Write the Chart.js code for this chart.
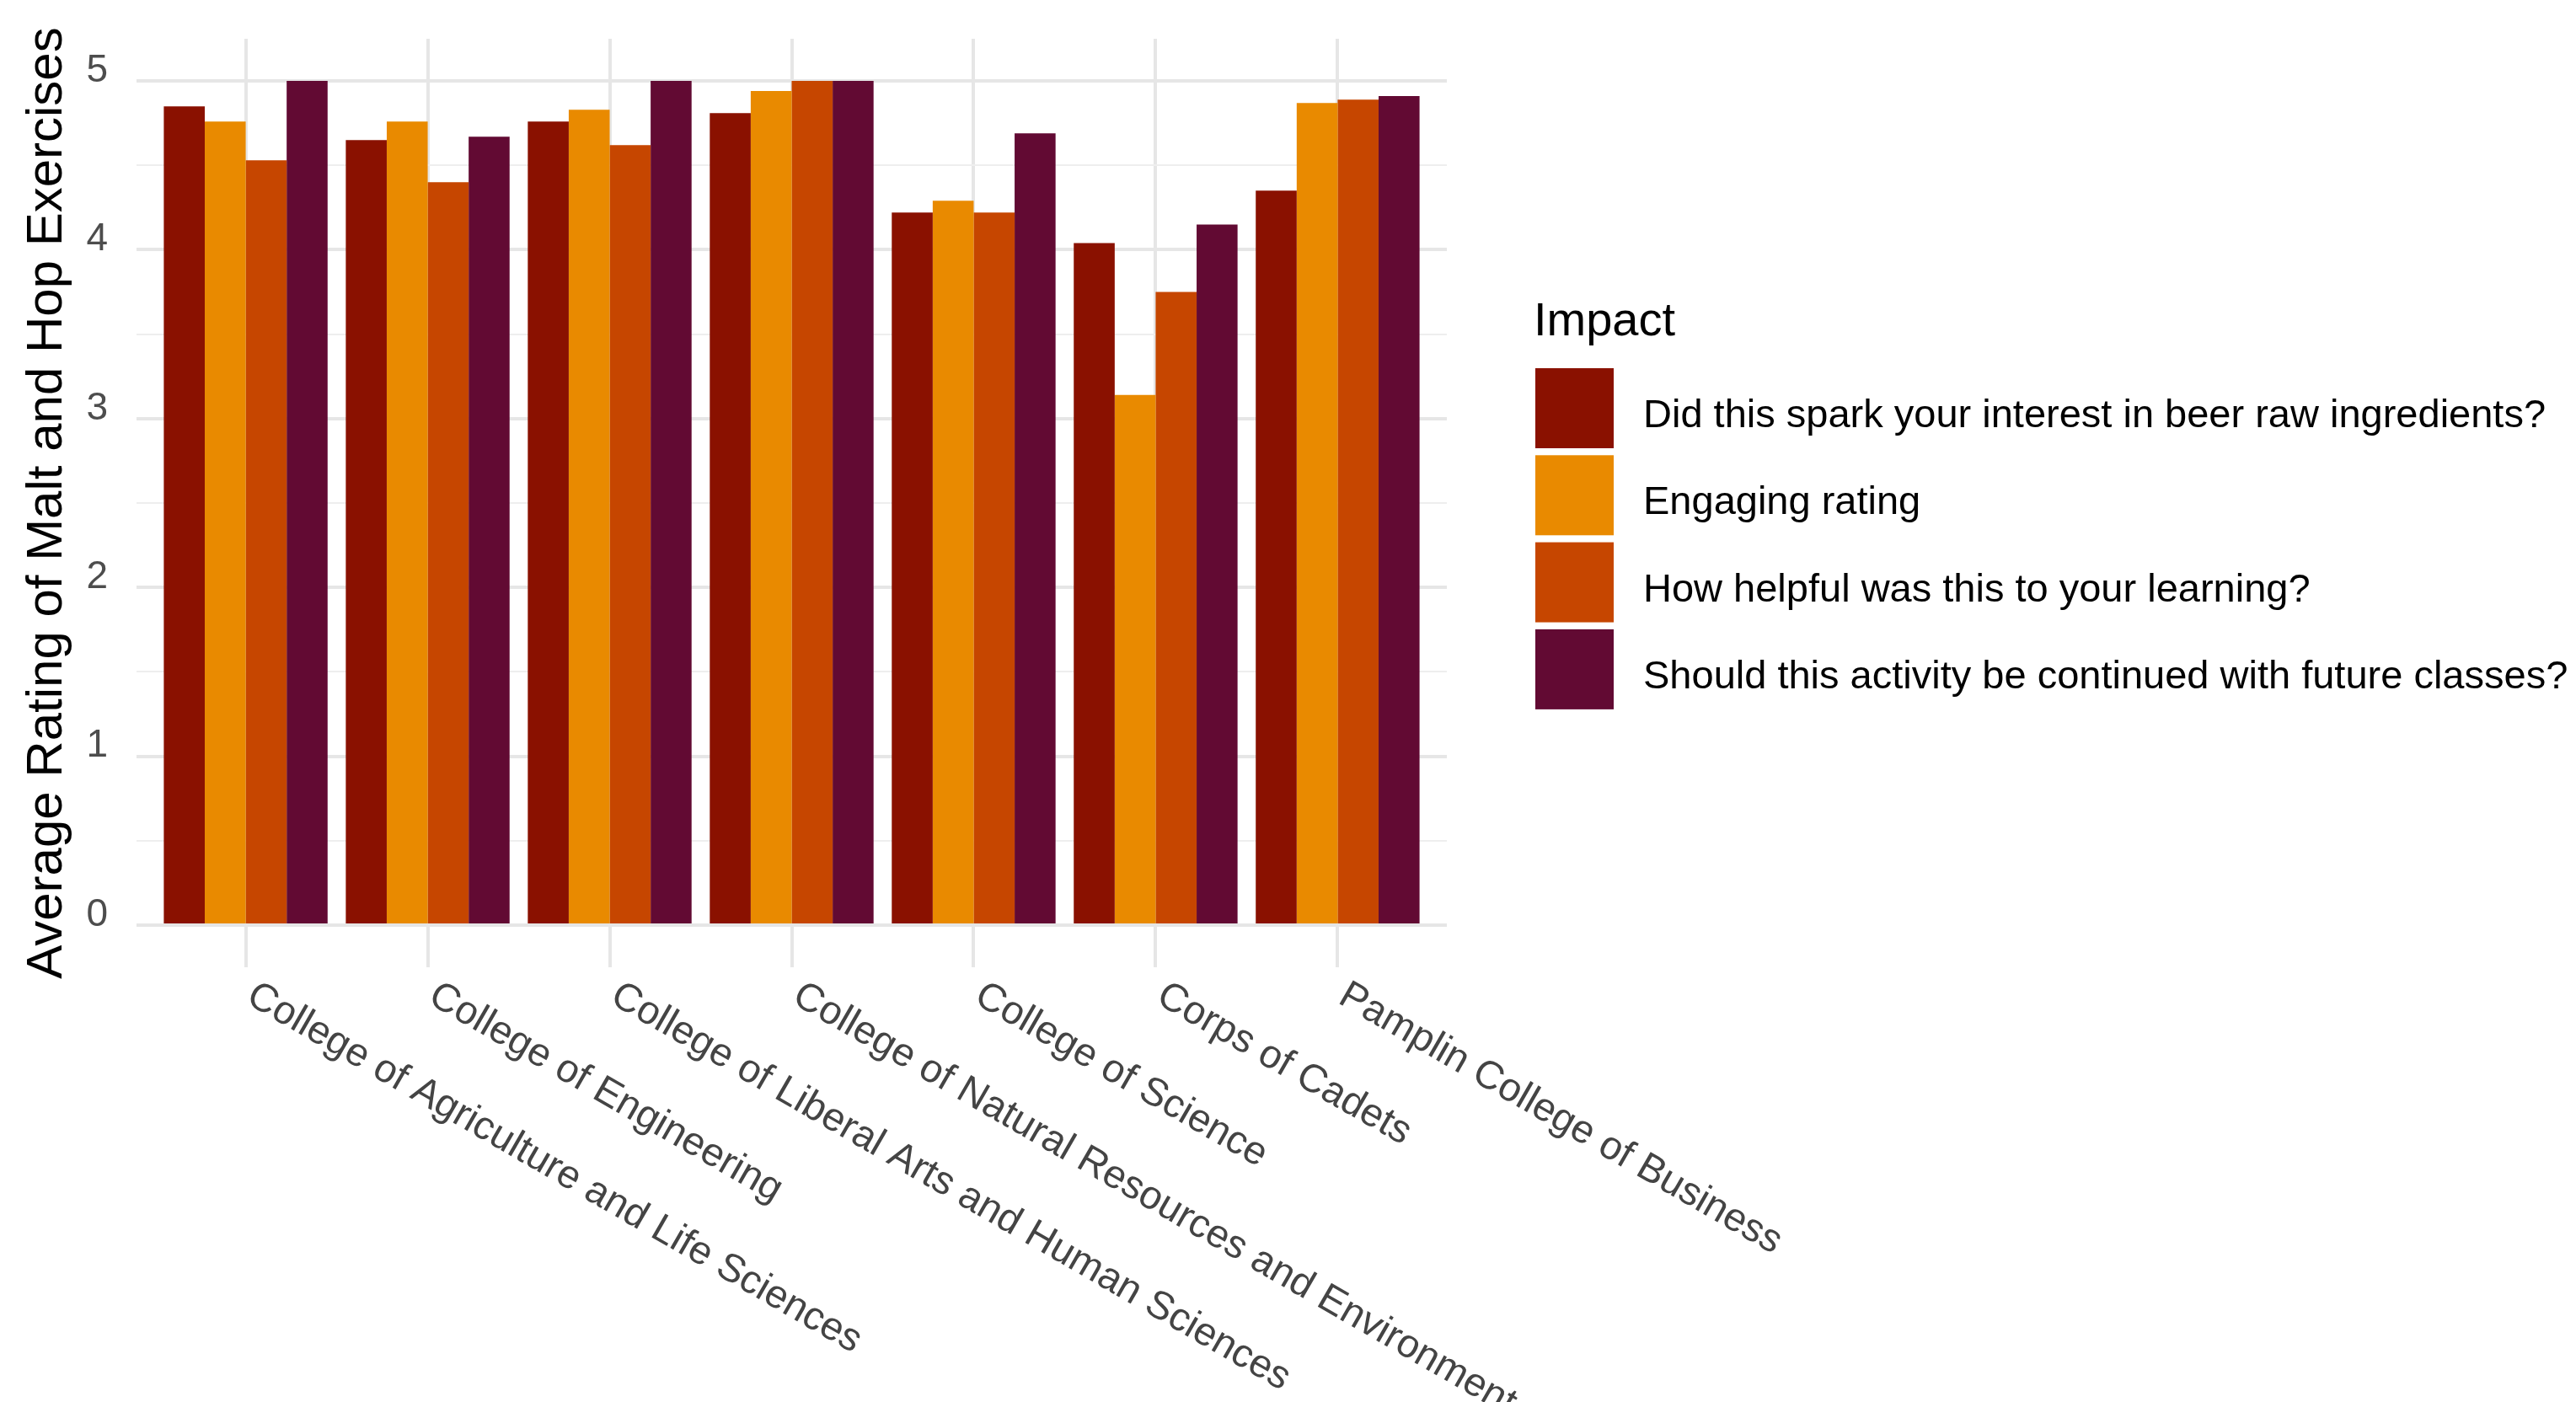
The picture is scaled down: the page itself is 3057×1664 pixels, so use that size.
<!DOCTYPE html>
<html>
<head>
<meta charset="utf-8">
<script src="https://cdn.jsdelivr.net/npm/chart.js@4.4.1/dist/chart.umd.min.js"></script>
<style>
  html, body { margin: 0; padding: 0; background: #ffffff; }
  #ratingChart { display: block; }
</style>
</head>
<body>
<canvas id="ratingChart" width="3057" height="1664"></canvas>
<script>
/* --------------- Data --------------------- */
const colleges = [
  "College of Agriculture and Life Sciences",
  "College of Engineering",
  "College of Liberal Arts and Human Sciences",
  "College of Natural Resources and Environment",
  "College of Science",
  "Corps of Cadets",
  "Pamplin College of Business",
];
const impactNames = [
  "Did this spark your interest in beer raw ingredients?",
  "Engaging rating",
  "How helpful was this to your learning?",
  "Should this activity be continued with future classes?",
];
const sparkInterest = [4.85, 4.65, 4.76, 4.81, 4.22, 4.04, 4.35];
const engagingRating = [4.76, 4.76, 4.83, 4.94, 4.29, 3.14, 4.87];
const helpfulLearning = [4.53, 4.40, 4.62, 5.00, 4.22, 3.75, 4.89];
const continueActivity = [5.00, 4.67, 5.00, 5.00, 4.69, 4.15, 4.91];
const yTickValues = [0, 0.5, 1, 1.5, 2, 2.5, 3, 3.5, 4, 4.5, 5];

/* --------------- Look --------------------- */
const impactColors = ["#8a1100", "#e98a00", "#c64600", "#620a33"];
const fontFamily = "'Liberation Sans', Arial, sans-serif";
const gridMajor = "#e6e6e6";
const gridMinor = "#eeeeee";

const seriesValues = [sparkInterest, engagingRating, helpfulLearning, continueActivity];

/* --------------- Rotated x labels and legend --------------------- */
const sideText = {
  id: "sideText",
  afterDraw(chart) {
    const ctx = chart.ctx;
    const area = chart.chartArea;
    const xScale = chart.scales.x;
    ctx.save();

    // category labels, rotated 30 degrees clockwise, starting at the tick
    ctx.fillStyle = "#444444";
    ctx.font = `47px ${fontFamily}`;
    ctx.textAlign = "left";
    ctx.textBaseline = "top";
    colleges.forEach((name, i) => {
      const x = xScale.getPixelForValue(i + 1);
      ctx.save();
      ctx.translate(x + 17, area.bottom + 10);
      ctx.rotate(Math.PI / 6);
      ctx.fillText(name, 0, 0);
      ctx.restore();
    });

    // legend
    const keyX = area.right + 105;
    ctx.fillStyle = "#000000";
    ctx.textBaseline = "alphabetic";
    ctx.font = `56px ${fontFamily}`;
    ctx.fillText("Impact", keyX - 2, area.top + 352);
    ctx.font = `47px ${fontFamily}`;
    impactNames.forEach((name, i) => {
      const rowTop = area.top + 391 + i * 103.3;
      ctx.fillStyle = impactColors[i];
      ctx.fillRect(keyX, rowTop, 93, 95);
      ctx.fillStyle = "#000000";
      ctx.fillText(name, keyX + 128, rowTop + 70);
    });
    ctx.restore();
  },
};

/* --------------- Chart --------------------- */
const ratingChart = new Chart(document.getElementById("ratingChart"), {
  type: "bar",
  plugins: [sideText],
  data: {
    datasets: impactNames.map((name, s) => ({
      label: name,
      data: seriesValues[s].map((v, i) => ({ x: i + 1, y: v })),
      backgroundColor: impactColors[s],
      borderWidth: 0,
      categoryPercentage: 0.9,
      barPercentage: 1.0,
    })),
  },
  options: {
    responsive: false,
    animation: false,
    layout: { padding: { top: 46, right: 1340, left: 0, bottom: 0 } },
    plugins: {
      legend: { display: false },
      tooltip: { enabled: false },
    },
    scales: {
      x: {
        type: "linear",
        min: 0.4,
        max: 7.6,
        offset: false,
        afterBuildTicks: (scale) => {
          scale.ticks = colleges.map((_, i) => ({ value: i + 1 }));
        },
        afterFit: (scale) => {
          scale.height = 516;
          scale.paddingLeft = 0;
          scale.paddingRight = 0;
        },
        ticks: { display: false },
        grid: { offset: false, color: gridMajor, lineWidth: 4, drawTicks: false },
        border: { display: false },
      },
      y: {
        min: -0.25,
        max: 5.25,
        afterBuildTicks: (scale) => {
          scale.ticks = yTickValues.map((v) => ({ value: v }));
        },
        afterFit: (scale) => {
          scale.width = 162;
          scale.paddingTop = 0;
          scale.paddingBottom = 0;
        },
        ticks: {
          autoSkip: false,
          padding: 34,
          labelOffset: -12,
          color: "#4d4d4d",
          font: { family: fontFamily, size: 46 },
          callback: (value) => (Number.isInteger(value) ? String(value) : ""),
        },
        grid: {
          drawTicks: false,
          color: (c) => (Number.isInteger(c.tick.value) ? gridMajor : gridMinor),
          lineWidth: (c) => (Number.isInteger(c.tick.value) ? 4 : 2),
        },
        border: { display: false },
        title: {
          display: true,
          text: "Average Rating of Malt and Hop Exercises",
          color: "#000000",
          font: { family: fontFamily, size: 60 },
          padding: { top: 20, bottom: 0 },
        },
      },
    },
  },
});
</script>
</body>
</html>
